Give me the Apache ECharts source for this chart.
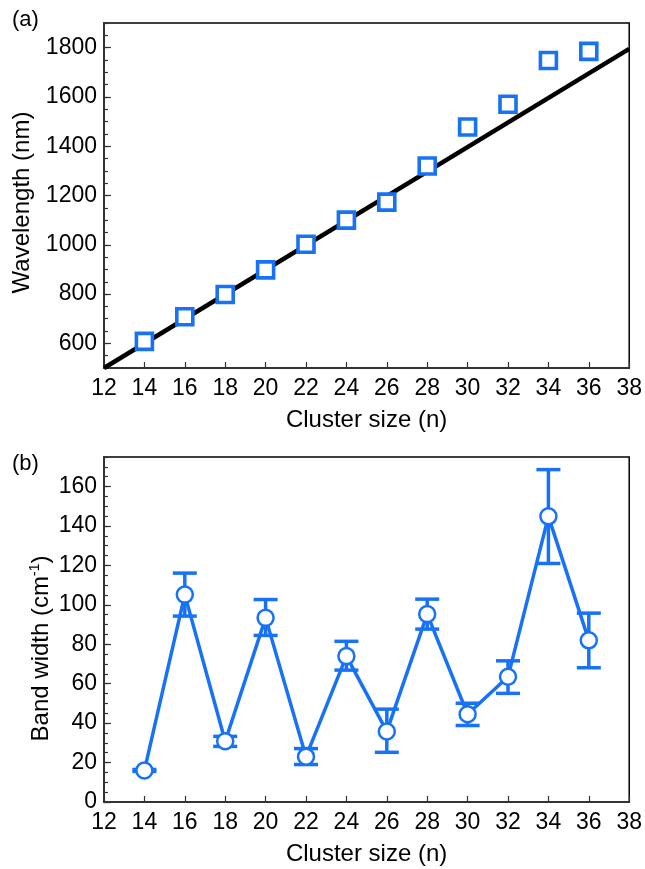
<!DOCTYPE html>
<html><head><meta charset="utf-8">
<script src="https://cdn.jsdelivr.net/npm/echarts@6/dist/echarts.min.js"></script>
<style>html,body{margin:0;padding:0;background:#fff}#c{width:645px;height:869px}</style>
</head><body><div id="c"></div>
<script>
// ---- data ----
const clusterSizes = [14, 16, 18, 20, 22, 24, 26, 28, 30, 32, 34, 36];
const wavelengths = [608, 708, 798, 898, 1002, 1100, 1173, 1320, 1478, 1570, 1748, 1785];
const fitX = [12, 38];
const fitY = [500, 1795];
const bandWidths = [16.0, 105.2, 30.8, 93.4, 23.0, 74.0, 35.8, 95.3, 44.5, 63.5, 144.9, 82.0];
const bandLow = [15.5, 94.3, 28.2, 84.5, 19.0, 66.9, 25.2, 87.7, 38.8, 55.1, 121.0, 68.1];
const bandHigh = [16.5, 116.1, 33.3, 102.7, 27.1, 81.5, 47.1, 102.9, 50.1, 71.6, 168.6, 95.8];
const xTickLabels = [12, 14, 16, 18, 20, 22, 24, 26, 28, 30, 32, 34, 36, 38];
const yTickLabelsA = [600, 800, 1000, 1200, 1400, 1600, 1800];
const yTickLabelsB = [0, 20, 40, 60, 80, 100, 120, 140, 160];

const BLUE = '#1872F6';
const FONT = 'Liberation Sans';

const chart = echarts.init(document.getElementById('c'), null, {renderer: 'canvas'});

function xAxisCfg(gi) {
  return {
    gridIndex: gi, type: 'value', min: 12, max: 38, interval: 2,
    name: 'Cluster size (n)', nameLocation: 'middle', nameGap: 40,
    nameTextStyle: {fontFamily: FONT, fontSize: 24, color: '#000'},
    axisLine: {lineStyle: {color: '#333', width: 2}},
    axisTick: {inside: true, length: 6, customValues: xTickLabels, lineStyle: {color: '#333', width: 1.2}},
    axisLabel: {fontFamily: FONT, fontSize: 23, color: '#000', margin: 9, customValues: xTickLabels,
                formatter: v => String(v)},
    splitLine: {show: false}
  };
}
function yMain(gi, min, max, interval, ticks, name, gap, pad) {
  return {
    gridIndex: gi, type: 'value', min: min, max: max, interval: interval, position: 'left',
    name: name, nameLocation: 'middle', nameGap: gap, nameMoveOverlap: false,
    nameTextStyle: {fontFamily: FONT, fontSize: 24, color: '#000', padding: [0, pad, 0, 0],
      rich: {a: {fontFamily: FONT, fontSize: 24, color: '#000'},
             s: {fontFamily: FONT, fontSize: 14, color: '#000', padding: [0, 0, 12, 0]}}},
    axisLine: {lineStyle: {color: '#333', width: 2}},
    axisTick: {inside: true, length: 7, customValues: ticks, lineStyle: {color: '#333', width: 1.2}},
    axisLabel: {fontFamily: FONT, fontSize: 23, color: '#000', margin: 7, customValues: ticks,
                formatter: v => String(v)},
    splitLine: {show: false}
  };
}
function yMinor(gi, min, max, interval) {
  return {
    gridIndex: gi, type: 'value', min: min, max: max, interval: interval, position: 'left',
    axisLine: {show: false},
    axisTick: {inside: true, length: 4, lineStyle: {color: '#333', width: 1.2}},
    axisLabel: {show: false},
    splitLine: {show: false}
  };
}

const option = {
  backgroundColor: '#fff',
  animation: false,
  graphic: [
    {type: 'text', left: 12, top: 9, style: {text: '(a)', fontFamily: FONT, fontSize: 22, fill: '#000'}},
    {type: 'text', left: 12, top: 453, style: {text: '(b)', fontFamily: FONT, fontSize: 22, fill: '#000'}}
  ],
  grid: [
    {left: 104, width: 528, top: 23, height: 345, show: true, borderColor: '#000', borderWidth: 1.5},
    {left: 104, width: 528, top: 457, height: 345, show: true, borderColor: '#000', borderWidth: 1.5}
  ],
  xAxis: [xAxisCfg(0), xAxisCfg(1)],
  yAxis: [
    yMain(0, 500, 1900, 100, yTickLabelsA, 'Wavelength (nm)', 70, 14),
    yMinor(0, 500, 1900, 50),
    yMain(1, 0, 175, 5, yTickLabelsB, '{a|Band width (cm}{s|-1}{a|)}', 50, 38),
    yMinor(1, 0, 175, 5)
  ],
  series: [
    {
      type: 'line', xAxisIndex: 0, yAxisIndex: 0,
      data: fitX.map((x, i) => [x, fitY[i]]),
      showSymbol: false, lineStyle: {color: '#000', width: 4.5}, z: 2, clip: true
    },
    {
      type: 'scatter', xAxisIndex: 0, yAxisIndex: 0,
      data: clusterSizes.map((x, i) => [x, wavelengths[i]]),
      symbol: 'rect', symbolSize: 16,
      itemStyle: {color: '#fff', borderColor: BLUE, borderWidth: 3.6, opacity: 1}, z: 5
    },
    {
      type: 'line', xAxisIndex: 1, yAxisIndex: 2,
      data: clusterSizes.map((x, i) => [x, bandWidths[i]]),
      showSymbol: false, lineStyle: {color: BLUE, width: 3.5}, z: 2
    },
    {
      type: 'custom', xAxisIndex: 1, yAxisIndex: 2, z: 3,
      data: clusterSizes.map((x, i) => [x, bandLow[i], bandHigh[i]]),
      encode: {x: 0, y: [1, 2]},
      renderItem: function (params, api) {
        const x = api.value(0);
        const pLo = api.coord([x, api.value(1)]);
        const pHi = api.coord([x, api.value(2)]);
        const hw = 12;
        const style = {stroke: BLUE, lineWidth: 3.5, fill: null};
        return {type: 'group', children: [
          {type: 'line', shape: {x1: pLo[0], y1: pLo[1], x2: pHi[0], y2: pHi[1]}, style: style},
          {type: 'line', shape: {x1: pLo[0] - hw, y1: pLo[1], x2: pLo[0] + hw, y2: pLo[1]}, style: style},
          {type: 'line', shape: {x1: pHi[0] - hw, y1: pHi[1], x2: pHi[0] + hw, y2: pHi[1]}, style: style}
        ]};
      }
    },
    {
      type: 'scatter', xAxisIndex: 1, yAxisIndex: 2,
      data: clusterSizes.map((x, i) => [x, bandWidths[i]]),
      symbol: 'circle', symbolSize: 16,
      itemStyle: {color: '#fff', borderColor: BLUE, borderWidth: 2.5, opacity: 1}, z: 5
    }
  ]
};
chart.setOption(option);
</script>
</body></html>
